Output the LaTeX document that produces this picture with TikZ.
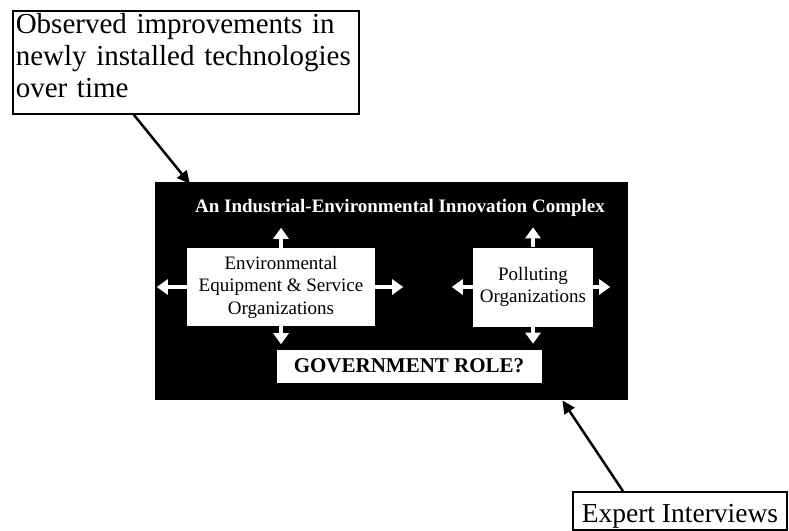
\documentclass[tikz,border=0pt]{standalone}
\usepackage{fontspec}
\setmainfont{Liberation Serif}
\usetikzlibrary{arrows.meta, positioning}

\begin{document}
\begin{tikzpicture}[x=1pt, y=-1pt,
  callout/.style={draw, line width=1.6pt, fill=white, inner ysep=3pt},
  orgbox/.style={fill=white, align=center, inner sep=0pt, font=\fontsize{19}{22.5}\selectfont},
  outarrow/.style={white, line width=4pt, -{Triangle[width=15pt,length=11pt]}},
  feed/.style={line width=2.5pt, -{Triangle[width=12pt,length=13pt]}}]
\useasboundingbox (0,0) rectangle (789,530);
% the complex
\node[fill=black, minimum width=473pt, minimum height=218pt, inner sep=0pt, anchor=north west] (complex) at (155,182) {};
\node[white, font=\fontsize{19}{22}\selectfont\bfseries] (title) at (400,208) {An Industrial-Environmental Innovation Complex};
\node[orgbox, minimum width=188pt, minimum height=78pt] (envorg) at (281,287) {Environmental\\Equipment \& Service\\Organizations};
\node[orgbox, minimum width=120pt, minimum height=79pt] (pollorg) at (533,287) {Polluting\\Organizations};
\node[fill=white, inner sep=0pt, minimum width=265pt, minimum height=33pt, font=\fontsize{21}{24}\selectfont\bfseries] (govrole) at (409,366) {GOVERNMENT ROLE?};
% links out of the two boxes
\draw[outarrow] (envorg.north) -- ++(0,-20);
\draw[outarrow] (envorg.west) -- ++(-30,0);
\draw[outarrow] (envorg.east) -- ++(28,0);
\draw[outarrow] (envorg.south) -- ++(0,18);
\draw[outarrow] (pollorg.north) -- ++(0,-20);
\draw[outarrow] (pollorg.west) -- ++(-21,0);
\draw[outarrow] (pollorg.east) -- ++(17,0);
\draw[outarrow] (pollorg.south) -- ++(0,17);
% evidence sources
\node[callout, anchor=north west, text width=340pt, align=left, inner xsep=3pt, font=\fontsize{29}{32}\selectfont] (observed) at (12,10)
  {Observed improvements in\\newly installed technologies\\over time\rule[-13pt]{0pt}{0pt}};
\node[callout, anchor=base west, inner xsep=9pt, inner ysep=2pt, text height=28pt, font=\fontsize{27.5}{32}\selectfont] (expert) at (572,522) {Expert Interviews};
\draw[feed] ([xshift=-52pt]observed.south) -- ([xshift=35pt,yshift=-2pt]complex.north west);
\draw[feed] ([xshift=51pt]expert.north west) -- ([xshift=-66pt]complex.south east);
\end{tikzpicture}
\end{document}
